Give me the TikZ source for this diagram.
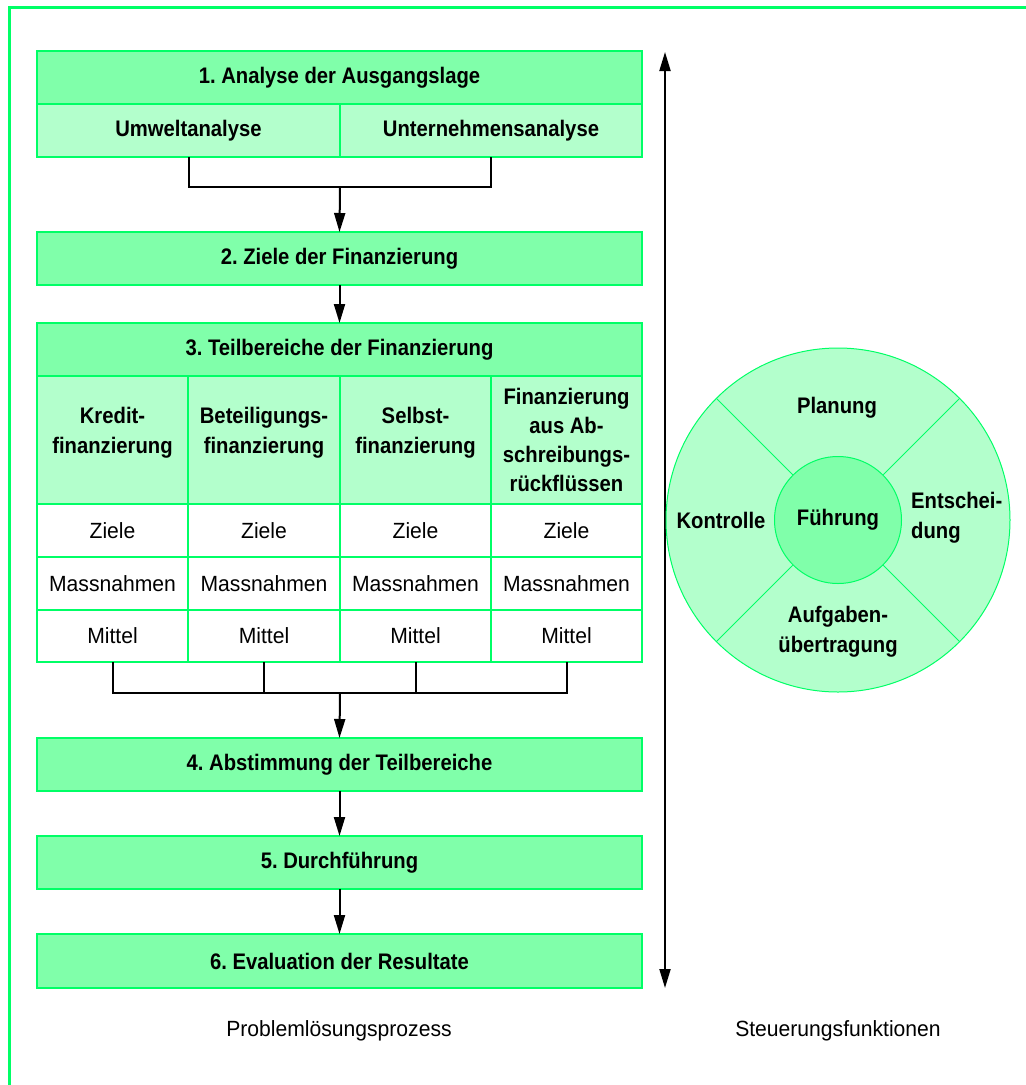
\documentclass[tikz,border=0pt]{standalone}
\usepackage{fontspec}
\setmainfont{Liberation Sans}[FakeStretch=0.96]
\newfontfamily\bcond{Liberation Sans Bold}[FakeStretch=0.9]
\AtBeginDocument{\frenchspacing}
\usetikzlibrary{arrows.meta}
\definecolor{frameg}{RGB}{0,255,102}
\definecolor{headg}{RGB}{128,255,170}
\definecolor{subg}{RGB}{179,255,204}
\tikzset{
  cellbase/.style={draw=frameg, line width=2pt, inner sep=2pt, outer sep=0pt, anchor=north west, align=center},
  headbox/.style={cellbase, fill=headg, font=\bcond\fontsize{22.5}{29}\selectfont},
  subbox/.style={cellbase, fill=subg, font=\bcond\fontsize{22.5}{29}\selectfont},
  plainbox/.style={cellbase, fill=white, font=\fontsize{22}{26}\selectfont},
  conn/.style={black, line width=2pt},
  arr/.style={conn, -{Triangle[length=19pt,width=11pt]}},
  boldtxt/.style={font=\bcond\fontsize{22.5}{30}\selectfont, inner sep=0pt, align=center},
  regtxt/.style={font=\fontsize{22}{26}\selectfont, inner sep=0pt},
}
\begin{document}
\begin{tikzpicture}[x=1pt,y=-1pt]
\useasboundingbox (0,0) rectangle (1026,1085);
% frame
\draw[frameg, line width=3pt] (9.5,1085) -- (9.5,7.5) -- (1026,7.5);

% box 1
\node[headbox, minimum width=605pt, minimum height=53pt] (b1) at (37,51) {1. Analyse der Ausgangslage};
\node[subbox, minimum width=303pt, minimum height=53pt] (um) at (37,104) {Umweltanalyse};
\node[subbox, minimum width=302pt, minimum height=53pt] (un) at (340,104) {Unternehmensanalyse};
\coordinate (j1) at (340,187);
\draw[conn] (um.south) |- (j1) -| (un.south);

% box 2
\node[headbox, minimum width=605pt, minimum height=53pt] (b2) at (37,232) {2. Ziele der Finanzierung};
\draw[arr] (j1) -- (b2.north);

% box 3
\node[headbox, minimum width=605pt, minimum height=53pt] (b3) at (37,323) {3. Teilbereiche der Finanzierung};
\draw[arr] (b2.south) -- (b3.north);

\node[subbox, minimum width=151pt, minimum height=128pt] (k1) at (37,376) {};
\node[subbox, minimum width=152pt, minimum height=128pt] (k2) at (188,376) {};
\node[subbox, minimum width=151pt, minimum height=128pt] (k3) at (340,376) {};
\node[subbox, minimum width=151pt, minimum height=128pt] (k4) at (491,376) {Finanzierung\\aus Ab-\\schreibungs-\\rückflüssen};
\node[boldtxt] (k1t) at ([yshift=7pt]k1.center) {Kredit-\\finanzierung};
\node[boldtxt] (k2t) at ([yshift=7pt]k2.center) {Beteiligungs-\\finanzierung};
\node[boldtxt] (k3t) at ([yshift=7pt]k3.center) {Selbst-\\finanzierung};

\node[plainbox, minimum width=151pt, minimum height=53pt] (z1) at (37,504) {Ziele};
\node[plainbox, minimum width=152pt, minimum height=53pt] (z2) at (188,504) {Ziele};
\node[plainbox, minimum width=151pt, minimum height=53pt] (z3) at (340,504) {Ziele};
\node[plainbox, minimum width=151pt, minimum height=53pt] (z4) at (491,504) {Ziele};

\node[plainbox, minimum width=151pt, minimum height=53pt] (m1) at (37,557) {Massnahmen};
\node[plainbox, minimum width=152pt, minimum height=53pt] (m2) at (188,557) {Massnahmen};
\node[plainbox, minimum width=151pt, minimum height=53pt] (m3) at (340,557) {Massnahmen};
\node[plainbox, minimum width=151pt, minimum height=53pt] (m4) at (491,557) {Massnahmen};

\node[plainbox, minimum width=151pt, minimum height=52pt] (t1) at (37,610) {Mittel};
\node[plainbox, minimum width=152pt, minimum height=52pt] (t2) at (188,610) {Mittel};
\node[plainbox, minimum width=151pt, minimum height=52pt] (t3) at (340,610) {Mittel};
\node[plainbox, minimum width=151pt, minimum height=52pt] (t4) at (491,610) {Mittel};

\coordinate (j2) at (340,693);
\draw[conn] (t1.south) |- (j2) -| (t4.south);
\draw[conn] (t2.south) -- (t2.south |- j2);
\draw[conn] (t3.south) -- (t3.south |- j2);

% box 4-6
\node[headbox, minimum width=605pt, minimum height=53pt] (b4) at (37,738) {4. Abstimmung der Teilbereiche};
\draw[arr] (j2) -- (b4.north);
\node[headbox, minimum width=605pt, minimum height=53pt] (b5) at (37,836) {5. Durchführung};
\draw[arr] (b4.south) -- (b5.north);
\node[headbox, minimum width=605pt, minimum height=54pt] (b6) at (37,934) {6. Evaluation der Resultate};
\draw[arr] (b5.south) -- (b6.north);

% double arrow
\coordinate (ta) at (665,52);
\coordinate (tb) at (665,988);
\draw[conn, {Triangle[length=19pt,width=11pt]}-{Triangle[length=19pt,width=11pt]}] (ta) -- (tb);

% circle
\node[circle, draw=frameg, line width=1pt, fill=subg, minimum size=344pt, inner sep=0pt] (oc) at (838,520) {};
\node[circle, draw=frameg, line width=1pt, fill=headg, minimum size=127pt, inner sep=0pt] (ic) at (838,520) {};
\foreach \a in {45,135,225,315} \draw[frameg, line width=1pt] (ic.\a) -- (oc.\a);
\node[boldtxt] (fu) at (ic.center) {Führung};
\node[boldtxt] (pl) at (837,408) {Planung};
\node[boldtxt] (ko) at (721,520) {Kontrolle};
\node[boldtxt, align=left, anchor=west] (en) at (911,518) {Entschei-\\dung};
\node[boldtxt] (au) at (838,632) {Aufgaben-\\übertragung};

% labels
\node[regtxt] (lp) at (339,1031) {Problemlösungsprozess};
\node[regtxt] (ls) at (838,1031) {Steuerungsfunktionen};
\end{tikzpicture}
\end{document}
